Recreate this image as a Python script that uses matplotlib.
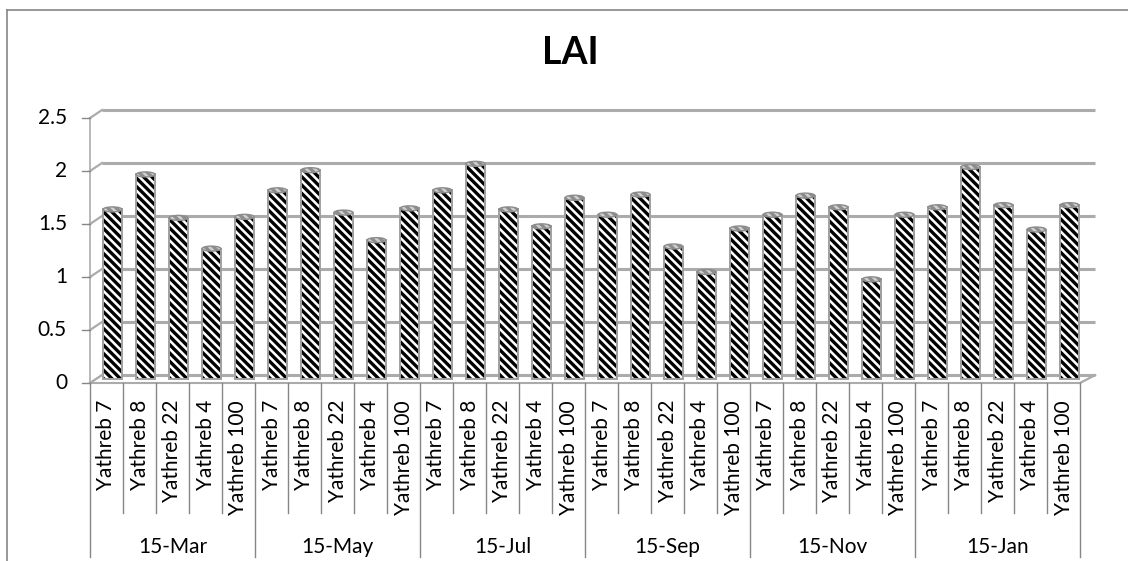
import matplotlib
matplotlib.use("Agg")
import matplotlib.pyplot as plt
import matplotlib.transforms as mtransforms
from matplotlib.patches import Rectangle, Ellipse, Polygon
from matplotlib.lines import Line2D

# ---- data -------------------------------------------------------------
dates = ["15-Mar", "15-May", "15-Jul", "15-Sep", "15-Nov", "15-Jan"]
varieties = ["Yathreb 7", "Yathreb 8", "Yathreb 22", "Yathreb 4", "Yathreb 100"]
lai_mar = [1.60, 1.93, 1.52, 1.23, 1.53]
lai_may = [1.78, 1.97, 1.57, 1.31, 1.61]
lai_jul = [1.78, 2.03, 1.60, 1.44, 1.71]
lai_sep = [1.55, 1.74, 1.25, 1.01, 1.42]
lai_nov = [1.55, 1.73, 1.62, 0.94, 1.55]
lai_jan = [1.62, 2.00, 1.64, 1.41, 1.64]
series = [lai_mar, lai_may, lai_jul, lai_sep, lai_nov, lai_jan]
y_ticks = [0, 0.5, 1, 1.5, 2, 2.5]
y_tick_labels = ["0", "0.5", "1", "1.5", "2", "2.5"]
title = "LAI"

# ---- figure / layout --------------------------------------------------
W, H = 1128, 561
plt.rcParams["font.family"] = ["Lato", "DejaVu Sans"]
plt.rcParams["hatch.linewidth"] = 2.4
plt.rcParams["hatch.color"] = "black"

fig = plt.figure(figsize=(W / 100, H / 100), dpi=100)
fig.patch.set_facecolor("white")

x_left, x_right = 90, 1080          # front edge of the floor (pixels)
y_zero, y_top = 383, 118            # front value axis (pixels from top)
ax = fig.add_axes([x_left / W, 1 - y_zero / H,
                   (x_right - x_left) / W, (y_zero - y_top) / H])
ax.set_axis_off()
n_groups = len(dates)
n_per = len(varieties)
n_total = n_groups * n_per
ax.set_xlim(0, n_total)
ax.set_ylim(0, 2.5)

grid_c = "#ababab"
axis_c = "#868686"
label_size = 15

# depth offsets (pixels) for the back wall and for the bars
back = mtransforms.offset_copy(ax.transData, fig=fig, x=12, y=8, units="dots")
mid = mtransforms.offset_copy(ax.transData, fig=fig, x=6, y=4, units="dots")

# back-wall gridlines with diagonal return to the front axis
for v in y_ticks:
    ax.plot([0, n_total + 0.1], [v, v], transform=back, color=grid_c, lw=2.2,
            solid_capstyle="butt", zorder=1, clip_on=False)
    p0 = ax.transData.transform((0, v))
    p1 = back.transform((0, v))
    fig.add_artist(Line2D([p0[0] / W, p1[0] / W], [p0[1] / H, p1[1] / H],
                          color=grid_c, lw=1.6, transform=fig.transFigure))
    # tick mark on the value axis
    fig.add_artist(Line2D([(x_left - 8) / W, x_left / W], [p0[1] / H, p0[1] / H],
                          color=axis_c, lw=1.0, transform=fig.transFigure))

# front edge of the left wall
ax.plot([0, 0], [0, 2.5], color=grid_c, lw=1.2, zorder=1, clip_on=False)

# floor
f0 = ax.transData.transform((0, 0))
f1 = ax.transData.transform((n_total, 0))
b0 = back.transform((0, 0))
b1 = back.transform((n_total + 0.1, 0))
floor = Polygon([[f0[0] / W, f0[1] / H], [f1[0] / W, f1[1] / H],
                 [b1[0] / W, b1[1] / H], [b0[0] / W, b0[1] / H]],
                closed=True, facecolor="white", edgecolor=grid_c, lw=1.2,
                transform=fig.transFigure, zorder=0)
fig.add_artist(floor)

# value-axis labels
for v, lab in zip(y_ticks, y_tick_labels):
    py = ax.transData.transform((0, v))[1]
    fig.text(67 / W, py / H, lab, ha="right", va="center", fontsize=label_size,
             color="black")

# hatched cylinders
bar_w = 0.57
cap_h = 5 / 106
k = 0
for vals in series:
    for v in vals:
        xc = k + 0.5
        body = Rectangle((xc - bar_w / 2, 0), bar_w, v, transform=mid,
                         facecolor="white", edgecolor="black",
                         hatch="\\\\\\\\", lw=0, zorder=3, clip_on=False)
        ax.add_patch(body)
        ax.add_patch(Rectangle((xc - bar_w / 2, 0), bar_w, v, transform=mid,
                               facecolor="none", edgecolor="#a0a0a0", lw=1.4,
                               zorder=4, clip_on=False))
        cap = Ellipse((xc, v), bar_w, cap_h, transform=mid,
                      facecolor="#d0d0d0", edgecolor="#8c8c8c", lw=1.0,
                      hatch="\\\\\\\\", zorder=5, clip_on=False)
        ax.add_patch(cap)
        k += 1

# floor front edge drawn above the bars
ax.plot([0, n_total], [0, 0], color=grid_c, lw=1.5, zorder=6, clip_on=False)
fig.add_artist(Line2D([f1[0] / W, b1[0] / W], [f1[1] / H, b1[1] / H],
                      color=grid_c, lw=1.5, transform=fig.transFigure))

# category axis: variety labels, ticks and date groups
lab_top = 400
inner_bottom = 513
outer_bottom = 557
xpix = lambda x: ax.transData.transform((x, 0))[0]
for i in range(n_total + 1):
    px = xpix(i)
    bottom = outer_bottom if i % n_per == 0 else inner_bottom
    fig.add_artist(Line2D([px / W, px / W], [1 - y_zero / H, 1 - bottom / H],
                          color=axis_c, lw=1.0, transform=fig.transFigure))
for i in range(n_total):
    px = xpix(i + 0.5)
    fig.text(px / W, 1 - lab_top / H, varieties[i % n_per], rotation=90,
             ha="center", va="top", fontsize=label_size, color="black")
for g, d in enumerate(dates):
    px = xpix(g * n_per + n_per / 2)
    fig.text(px / W, 1 - 547 / H, d, ha="center", va="center",
             fontsize=label_size, color="black")

# title
fig.text(570 / W, 1 - 53 / H, title, ha="center", va="center", fontsize=27,
         fontweight="bold", color="black")

# chart-area border
fig.add_artist(Line2D([7 / W, 7 / W], [0, 1 - 10 / H], color=axis_c, lw=1.2,
                      transform=fig.transFigure))
fig.add_artist(Line2D([7 / W, 1], [1 - 10 / H, 1 - 10 / H], color=axis_c,
                      lw=1.2, transform=fig.transFigure))

fig.savefig("out.png", dpi=100, facecolor="white")
